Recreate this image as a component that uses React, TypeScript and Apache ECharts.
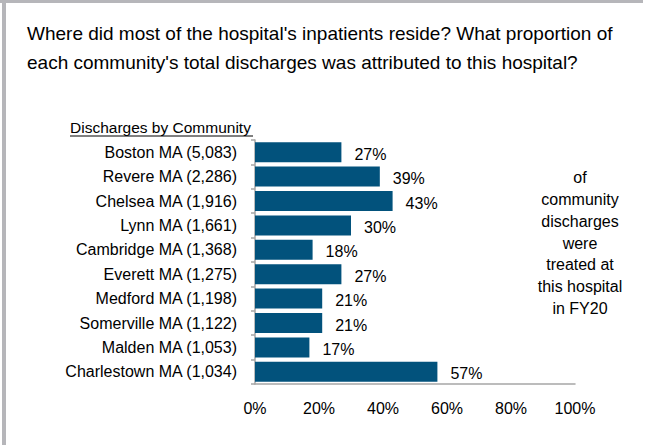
import React, { useEffect, useRef } from "react";
import * as echarts from "echarts";

const communities = [
  "Boston MA",
  "Revere MA",
  "Chelsea MA",
  "Lynn MA",
  "Cambridge MA",
  "Everett MA",
  "Medford MA",
  "Somerville MA",
  "Malden MA",
  "Charlestown MA",
];
const discharges = [5083, 2286, 1916, 1661, 1368, 1275, 1198, 1122, 1053, 1034];
const shares = [27, 39, 43, 30, 18, 27, 21, 21, 17, 57];
const xTicks = [0, 20, 40, 60, 80, 100];

const titleText =
  "Where did most of the hospital's inpatients reside? What proportion of\neach community's total discharges was attributed to this hospital?";
const sideNote = "of\ncommunity\ndischarges\nwere\ntreated at\nthis hospital\nin FY20";
const axisTitle = "Discharges by Community";

export default function App() {
  const ref = useRef<HTMLDivElement>(null);
  useEffect(() => {
    if (!ref.current) return;
    const chart = echarts.init(ref.current, null, { renderer: "svg" });
    const categories = communities.map(
      (c, i) => `${c} (${discharges[i].toLocaleString("en-US")})`
    );
    const font = "'Liberation Sans', Arial, sans-serif";
    chart.setOption({
      animation: false,
      backgroundColor: "#fff",
      textStyle: { fontFamily: font },
      title: {
        text: titleText,
        left: 22,
        top: 14,
        textStyle: {
          fontFamily: font,
          fontSize: 19,
          lineHeight: 29,
          fontWeight: "normal",
          color: "#000",
        },
      },
      grid: { left: 255, right: 79, top: 140, bottom: 61, containLabel: false },
      xAxis: {
        type: "value",
        min: xTicks[0],
        max: xTicks[xTicks.length - 1],
        interval: 20,
        axisLine: { show: true, lineStyle: { color: "#a6a6a6", width: 1.5 } },
        axisTick: { show: false },
        splitLine: { show: false },
        axisLabel: {
          formatter: "{value}%",
          fontSize: 16,
          color: "#000",
          margin: 16,
          fontFamily: font,
        },
      },
      yAxis: {
        type: "category",
        inverse: true,
        data: categories,
        axisLine: { show: true, lineStyle: { color: "#a6a6a6", width: 1.5 } },
        axisTick: { show: true, length: 4, lineStyle: { color: "#a6a6a6", width: 1.5 } },
        axisLabel: { fontSize: 16, color: "#000", margin: 18, fontFamily: font },
      },
      series: [
        {
          type: "bar",
          data: shares,
          barCategoryGap: "18%",
          itemStyle: { color: "#02527c" },
          label: {
            show: true,
            position: "right",
            distance: 13,
            formatter: "{c}%",
            fontSize: 16,
            color: "#000",
            fontFamily: font,
            offset: [0, 2],
          },
        },
      ],
      graphic: [
        { type: "rect", shape: { x: 0, y: 0, width: 643, height: 3 }, style: { fill: "#b6b6ba" } },
        { type: "rect", shape: { x: 2, y: 0, width: 4, height: 445 }, style: { fill: "#b6b6ba" } },
        {
          type: "text",
          x: 70,
          y: 127,
          style: {
            text: axisTitle,
            fontSize: 15.5,
            fontFamily: font,
            fill: "#000",
            align: "left",
            verticalAlign: "middle",
          },
        },
        {
          type: "line",
          shape: { x1: 70, y1: 136, x2: 253, y2: 136 },
          style: { stroke: "#000", lineWidth: 1 },
        },
        {
          type: "text",
          x: 580,
          y: 243,
          style: {
            text: sideNote,
            fontSize: 16,
            lineHeight: 21.7,
            fontFamily: font,
            fill: "#000",
            align: "center",
            verticalAlign: "middle",
          },
        },
      ],
    });
    return () => chart.dispose();
  }, []);
  return (
    <div
      ref={ref}
      style={{ position: "fixed", left: 0, top: 0, width: 654, height: 445 }}
    />
  );
}
